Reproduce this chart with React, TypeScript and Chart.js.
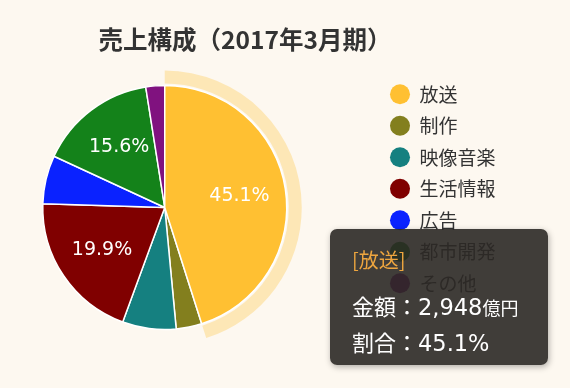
import React, { useEffect, useRef } from 'react';
import { Chart, registerables } from 'chart.js';

Chart.register(...registerables);

// ---- data ----
const titleText = '売上構成（2017年3月期）';
const categories = ['放送', '制作', '映像音楽', '生活情報', '広告', '都市開発', 'その他'];
const sales = [2948, 222, 464, 1301, 418, 1020, 163]; // 億円
const colors = ['#ffc032', '#837f1e', '#158080', '#800000', '#0a22ff', '#14821a', '#80127f'];
const activeIndex = 0;
const unitLabel = '億円';
const amountLabel = '金額';
const shareLabel = '割合';
const labelThreshold = 10; // % shown inside slices above this share

const FONT = "'Noto Sans CJK JP', 'Noto Sans', sans-serif";
const NUM_FONT = "'DejaVu Sans', 'Noto Sans CJK JP', sans-serif";
const total = sales.reduce((a, b) => a + b, 0);
const pctText = (v: number) => ((v / total) * 100).toFixed(1) + '%';

// canvas is shifted left so the pie sits left of the page's chart block
const SHIFT = 48;
const CANVAS_W = 570 + SHIFT;

function hexToRgba(hex: string, a: number) {
  const n = parseInt(hex.slice(1), 16);
  return `rgba(${(n >> 16) & 255},${(n >> 8) & 255},${n & 255},${a})`;
}

const titlePlugin = {
  id: 'customTitle',
  afterDraw(chart: any) {
    const { ctx } = chart;
    ctx.save();
    ctx.font = `bold 24.5px ${FONT}`;
    ctx.fillStyle = '#333';
    ctx.textAlign = 'center';
    ctx.textBaseline = 'middle';
    ctx.fillText(titleText, 245 + SHIFT, 40);
    ctx.restore();
  },
};

const haloPlugin = {
  id: 'halo',
  beforeDatasetsDraw(chart: any) {
    const { ctx } = chart;
    chart.getActiveElements().forEach(({ element, index }: any) => {
      const { x, y, startAngle, endAngle, outerRadius } = element.getProps(
        ['x', 'y', 'startAngle', 'endAngle', 'outerRadius'],
        true
      );
      ctx.save();
      ctx.beginPath();
      ctx.arc(x, y, outerRadius + 15, startAngle, endAngle);
      ctx.arc(x, y, outerRadius + 2, endAngle, startAngle, true);
      ctx.closePath();
      ctx.fillStyle = hexToRgba(colors[index], 0.3);
      ctx.fill();
      ctx.restore();
    });
  },
};

const sliceLabelPlugin = {
  id: 'sliceLabels',
  afterDatasetsDraw(chart: any) {
    const { ctx } = chart;
    const meta = chart.getDatasetMeta(0);
    ctx.save();
    ctx.font = `19px ${NUM_FONT}`;
    ctx.fillStyle = '#ffffff';
    ctx.textAlign = 'center';
    ctx.textBaseline = 'middle';
    meta.data.forEach((arc: any, i: number) => {
      if ((sales[i] / total) * 100 < labelThreshold) return;
      const { x, y, startAngle, endAngle, outerRadius } = arc.getProps(
        ['x', 'y', 'startAngle', 'endAngle', 'outerRadius'],
        true
      );
      const mid = (startAngle + endAngle) / 2;
      const r = outerRadius * 0.62;
      ctx.fillText(pctText(sales[i]), x + Math.cos(mid) * r, y + Math.sin(mid) * r);
    });
    ctx.restore();
  },
};

export default function App() {
  const canvasRef = useRef<HTMLCanvasElement | null>(null);
  const tipRef = useRef<HTMLDivElement | null>(null);

  useEffect(() => {
    if (!canvasRef.current) return;
    const external = ({ tooltip }: any) => {
      const el = tipRef.current;
      if (!el) return;
      if (!tooltip || tooltip.opacity === 0 || !tooltip.dataPoints || !tooltip.dataPoints.length) {
        el.style.display = 'none';
        return;
      }
      const dp = tooltip.dataPoints[0];
      const i = dp.dataIndex;
      const v = sales[i];
      el.innerHTML = '';
      const t = document.createElement('div');
      t.textContent = `[${categories[i]}]`;
      Object.assign(t.style, { fontSize: '20px', lineHeight: '30px', color: '#eea63f' });
      el.appendChild(t);

      const l1 = document.createElement('div');
      Object.assign(l1.style, { fontSize: '22px', lineHeight: '34px', marginTop: '13px' });
      l1.appendChild(document.createTextNode(`${amountLabel}：`));
      const n1 = document.createElement('span');
      n1.textContent = v.toLocaleString('en-US');
      Object.assign(n1.style, { fontFamily: NUM_FONT, fontSize: '22.5px' });
      l1.appendChild(n1);
      const u = document.createElement('span');
      u.textContent = unitLabel;
      u.style.fontSize = '18px';
      l1.appendChild(u);
      el.appendChild(l1);

      const l2 = document.createElement('div');
      Object.assign(l2.style, { fontSize: '22px', lineHeight: '34px' });
      l2.appendChild(document.createTextNode(`${shareLabel}：`));
      const n2 = document.createElement('span');
      n2.textContent = pctText(v);
      Object.assign(n2.style, { fontFamily: NUM_FONT, fontSize: '22.5px' });
      l2.appendChild(n2);
      el.appendChild(l2);
      el.style.display = 'block';
    };

    const chart = new Chart(canvasRef.current, {
      type: 'pie',
      data: {
        labels: categories,
        datasets: [
          {
            data: sales,
            backgroundColor: colors,
            hoverBackgroundColor: colors,
            borderColor: '#ffffff',
            hoverBorderColor: '#ffffff',
            borderWidth: 1.5,
            hoverBorderWidth: 1.5,
            hoverOffset: 0,
          },
        ],
      },
      options: {
        animation: false,
        responsive: false,
        events: [],
        radius: 122,
        layout: { padding: { left: 0, right: 64.5, top: 72.3, bottom: 45.3 } },
        plugins: {
          title: { display: false },
          legend: {
            position: 'right',
            align: 'start',
            labels: {
              usePointStyle: true,
              pointStyle: 'circle',
              pointStyleWidth: 20,
              boxHeight: 14.1,
              padding: 12.5,
              color: '#333',
              font: { family: FONT, size: 19 },
              generateLabels: (c: any) =>
                (Chart as any).overrides.doughnut.plugins.legend.labels
                  .generateLabels(c)
                  .map((l: any) => ({ ...l, lineWidth: 0, strokeStyle: 'rgba(0,0,0,0)', pointStyle: 'circle' })),
            },
          },
          tooltip: { enabled: false, external },
        },
      } as any,
      plugins: [haloPlugin, sliceLabelPlugin, titlePlugin],
    });

    const act = [{ datasetIndex: 0, index: activeIndex }];
    chart.setActiveElements(act);
    chart.tooltip?.setActiveElements(act, { x: 0, y: 0 });
    chart.update();

    return () => {
      chart.destroy();
    };
  }, []);

  return (
    <div
      style={{
        position: 'fixed',
        left: 0,
        top: 0,
        width: 570,
        height: 388,
        background: '#fdf8f0',
        overflow: 'hidden',
      }}
    >
      <canvas
        ref={canvasRef}
        width={CANVAS_W}
        height={388}
        style={{ display: 'block', position: 'absolute', left: -SHIFT, top: 0 }}
      />
      <div
        ref={tipRef}
        style={{
          position: 'absolute',
          left: 330,
          top: 229,
          width: 218,
          height: 136,
          boxSizing: 'border-box',
          padding: '16px 0 0 22px',
          background: 'rgba(43,40,37,0.9)',
          borderRadius: 7,
          boxShadow: '1px 2px 6px rgba(0,0,0,0.3)',
          color: '#ffffff',
          fontFamily: FONT,
          display: 'none',
          pointerEvents: 'none',
          whiteSpace: 'nowrap',
        }}
      />
    </div>
  );
}
